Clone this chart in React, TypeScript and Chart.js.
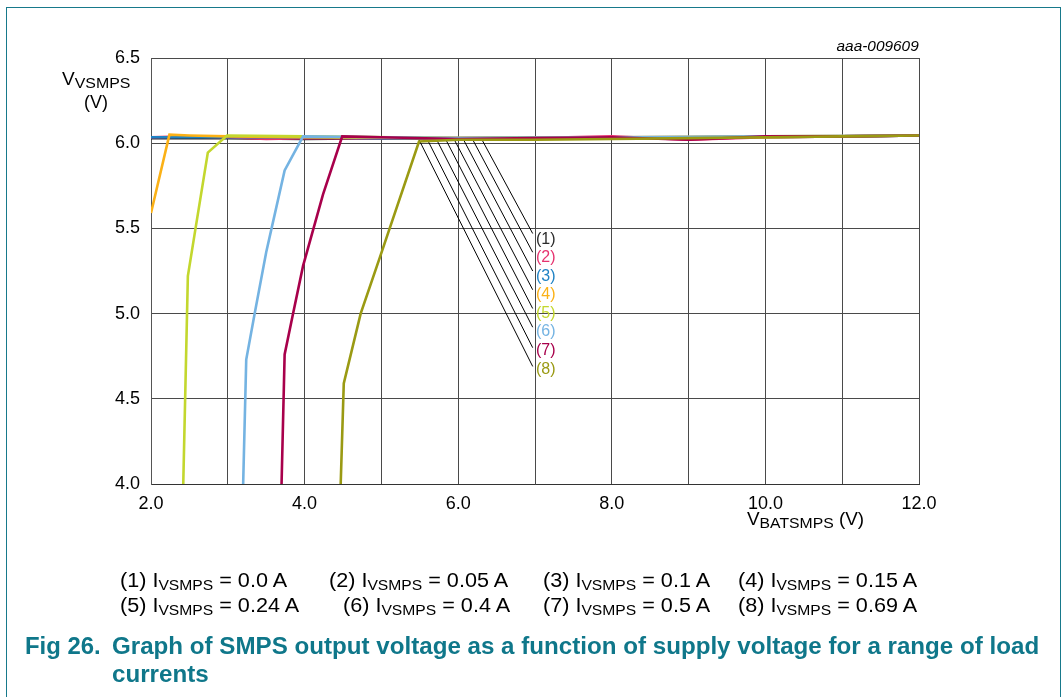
import React, { useEffect, useRef } from "react";
import { Chart, registerables } from "chart.js";

Chart.register(...registerables);

// ---------- data ----------
const seriesLabels = ["(1)", "(2)", "(3)", "(4)", "(5)", "(6)", "(7)", "(8)"];
const seriesCurrents = ["0.0", "0.05", "0.1", "0.15", "0.24", "0.4", "0.5", "0.69"];
const seriesColors = ["#2b2b2b", "#e6336f", "#1f82c4", "#fbb116", "#c3d72e", "#74b3e2", "#a8004b", "#9a9a13"];

const vbat1 = [2, 3, 4, 5, 6, 7, 8, 9, 10, 11, 12];
const vout1 = [6.03, 6.03, 6.025, 6.03, 6.025, 6.03, 6.035, 6.03, 6.035, 6.04, 6.045];

const vbat2 = [2, 2.5, 3, 3.5, 4, 5, 6, 7, 8, 9, 10, 11, 12];
const vout2 = [6.035, 6.04, 6.035, 6.025, 6.03, 6.03, 6.03, 6.03, 6.04, 6.02, 6.035, 6.04, 6.045];

const vbat3 = [2, 3, 4, 5, 6, 7, 8, 9, 10, 11, 12];
const vout3 = [6.035, 6.035, 6.035, 6.03, 6.03, 6.035, 6.035, 6.035, 6.04, 6.04, 6.045];

const vbat4 = [2.0, 2.24, 2.5, 3, 4, 6, 8, 10, 12];
const vout4 = [5.59, 6.05, 6.045, 6.04, 6.035, 6.03, 6.035, 6.04, 6.045];

const vbat5 = [2.42, 2.48, 2.58, 2.74, 2.99, 4, 6, 8, 10, 12];
const vout5 = [4.0, 5.22, 5.5, 5.945, 6.045, 6.04, 6.03, 6.03, 6.035, 6.045];

const vbat6 = [3.2, 3.24, 3.35, 3.5, 3.57, 3.74, 3.98, 5, 6, 8, 10, 12];
const vout6 = [4.0, 4.73, 5.0, 5.36, 5.5, 5.84, 6.04, 6.035, 6.03, 6.035, 6.04, 6.045];

const vbat7 = [3.7, 3.74, 3.85, 3.98, 4.24, 4.49, 5, 6, 7, 8, 9, 10, 11, 12];
const vout7 = [4.0, 4.76, 5.0, 5.28, 5.7, 6.04, 6.035, 6.025, 6.03, 6.035, 6.02, 6.04, 6.04, 6.045];

const vbat8 = [4.47, 4.51, 4.73, 4.98, 5.49, 6, 7, 8, 9, 10, 11, 12];
const vout8 = [4.0, 4.59, 5.0, 5.33, 6.01, 6.02, 6.02, 6.025, 6.03, 6.035, 6.04, 6.045];

// leader lines from curves to the (n) labels
const leaderStartX = [6.31, 6.19, 6.07, 5.95, 5.84, 5.72, 5.6, 5.49];
const leaderStartY = [6.02, 6.02, 6.02, 6.02, 6.02, 6.02, 6.02, 6.02];
const leaderEndX = [6.97, 6.97, 6.97, 6.97, 6.97, 6.97, 6.97, 6.97];
const leaderEndY = [5.47, 5.36, 5.25, 5.14, 5.03, 4.92, 4.8, 4.69];

const xTickLabels = ["2.0", "", "4.0", "", "6.0", "", "8.0", "", "10.0", "", "12.0"];
const yTickLabels = ["4.0", "4.5", "5.0", "5.5", "6.0", "6.5"];

const FONT = "'Liberation Sans', Arial, sans-serif";

type TxtProps = {
  left?: number;
  right?: number;
  cy: number;
  size: number;
  color?: string;
  bold?: boolean;
  italic?: boolean;
  sx?: number;
  children: React.ReactNode;
};

function Txt({ left, right, cy, size, color = "#000", bold, italic, sx = 1, children }: TxtProps) {
  const style: React.CSSProperties = {
    position: "absolute",
    top: cy - size * 0.6,
    fontFamily: FONT,
    fontSize: size,
    lineHeight: `${size * 1.2}px`,
    color,
    fontWeight: bold ? "bold" : "normal",
    fontStyle: italic ? "italic" : "normal",
    whiteSpace: "nowrap",
    transform: sx !== 1 ? `scaleX(${sx})` : undefined,
    transformOrigin: right !== undefined ? "right center" : "left center",
  };
  if (left !== undefined) style.left = left;
  if (right !== undefined) style.right = right;
  return <div style={style}>{children}</div>;
}

function Sub({ size, drop, children }: { size: number; drop: number; children: React.ReactNode }) {
  return (
    <span style={{ fontSize: size, position: "relative", top: drop }}>{children}</span>
  );
}

export default function App() {
  const canvasRef = useRef<HTMLCanvasElement>(null);

  useEffect(() => {
    if (!canvasRef.current) return;
    const curves: [number[], number[]][] = [
      [vbat1, vout1],
      [vbat2, vout2],
      [vbat3, vout3],
      [vbat4, vout4],
      [vbat5, vout5],
      [vbat6, vout6],
      [vbat7, vout7],
      [vbat8, vout8],
    ];
    const datasets: any[] = curves.map(([xs, ys], i) => ({
      label: seriesLabels[i],
      data: xs.map((x, j) => ({ x, y: ys[j] })),
      borderColor: seriesColors[i],
      backgroundColor: seriesColors[i],
      borderWidth: 2.6,
      pointRadius: 0,
      tension: 0,
      fill: false,
      order: 10 - i,
    }));
    leaderStartX.forEach((sx, i) => {
      datasets.push({
        label: "leader" + i,
        data: [
          { x: sx, y: leaderStartY[i] },
          { x: leaderEndX[i], y: leaderEndY[i] },
        ],
        borderColor: "#000",
        borderWidth: 1,
        pointRadius: 0,
        tension: 0,
        fill: false,
        order: 20,
      });
    });

    const chart = new Chart(canvasRef.current, {
      type: "line",
      data: { datasets },
      options: {
        responsive: false,
        animation: false,
        events: [],
        layout: { padding: { left: 111, top: 58, right: 144, bottom: 173 } },
        plugins: { legend: { display: false }, tooltip: { enabled: false } },
        scales: {
          x: {
            type: "linear",
            min: 2,
            max: 12,
            afterFit: (s: any) => {
              s.height = 40;
            },
            ticks: {
              stepSize: 1,
              autoSkip: false,
              maxRotation: 0,
              padding: 9,
              color: "#000",
              font: { family: FONT, size: 18 },
              callback: (_v: any, i: number) => xTickLabels[i],
            },
            grid: { color: "#4a4a4a", lineWidth: 1, drawTicks: false },
            border: { color: "#333", width: 1 },
          },
          y: {
            type: "linear",
            min: 4,
            max: 6.5,
            afterFit: (s: any) => {
              s.width = 40;
            },
            ticks: {
              stepSize: 0.5,
              autoSkip: false,
              padding: 11,
              color: "#000",
              font: { family: FONT, size: 18 },
              callback: (_v: any, i: number) => yTickLabels[i],
            },
            grid: { color: "#4a4a4a", lineWidth: 1, drawTicks: false },
            border: { color: "#555", width: 1 },
          },
        },
      },
    } as any);
    return () => chart.destroy();
  }, []);

  const legendX1 = [120, 329, 543, 738];
  const legendX2 = [120, 343, 543, 738];
  const labelY = [239, 257, 276, 294, 313, 331, 350, 369];

  return (
    <div
      style={{
        position: "fixed",
        left: 0,
        top: 0,
        width: 1063,
        height: 697,
        background: "#fff",
        overflow: "hidden",
      }}
    >
      <div
        style={{
          position: "absolute",
          left: 6,
          top: 7,
          width: 1053,
          height: 720,
          borderTop: "1.5px solid #17798b",
          borderLeft: "1.5px solid #17798b",
          borderRight: "1.5px solid #17798b",
        }}
      />
      <canvas
        ref={canvasRef}
        width={1063}
        height={697}
        style={{ position: "absolute", left: 0, top: 0, width: 1063, height: 697 }}
      />

      <Txt right={1063 - 919} cy={46} size={14} italic sx={1.1}>
        aaa-009609
      </Txt>

      <Txt left={62} cy={80} size={18} sx={1.06}>
        V<Sub size={15} drop={3}>VSMPS</Sub>
      </Txt>
      <Txt left={84} cy={103} size={18}>
        (V)
      </Txt>

      <Txt left={747} cy={520} size={18} sx={1.05}>
        V<Sub size={15} drop={3}>BATSMPS</Sub> (V)
      </Txt>

      {seriesLabels.map((l, i) => (
        <Txt key={l} left={536} cy={labelY[i]} size={16} color={seriesColors[i]}>
          {l}
        </Txt>
      ))}

      {seriesLabels.map((l, i) => {
        const row = i < 4 ? 0 : 1;
        const col = i % 4;
        const x = row === 0 ? legendX1[col] : legendX2[col];
        return (
          <Txt key={"lg" + l} left={x} cy={row === 0 ? 580 : 605} size={20} sx={1.08}>
            {l} I<Sub size={14.5} drop={3}>VSMPS</Sub> = {seriesCurrents[i]} A
          </Txt>
        );
      })}

      <Txt left={25} cy={647} size={23} bold color="#0f778a" sx={1.04}>
        Fig 26.
      </Txt>
      <Txt left={112} cy={647} size={23} bold color="#0f778a" sx={1.05}>
        Graph of SMPS output voltage as a function of supply voltage for a range of load
      </Txt>
      <Txt left={112} cy={675} size={23} bold color="#0f778a" sx={1.05}>
        currents
      </Txt>
    </div>
  );
}
